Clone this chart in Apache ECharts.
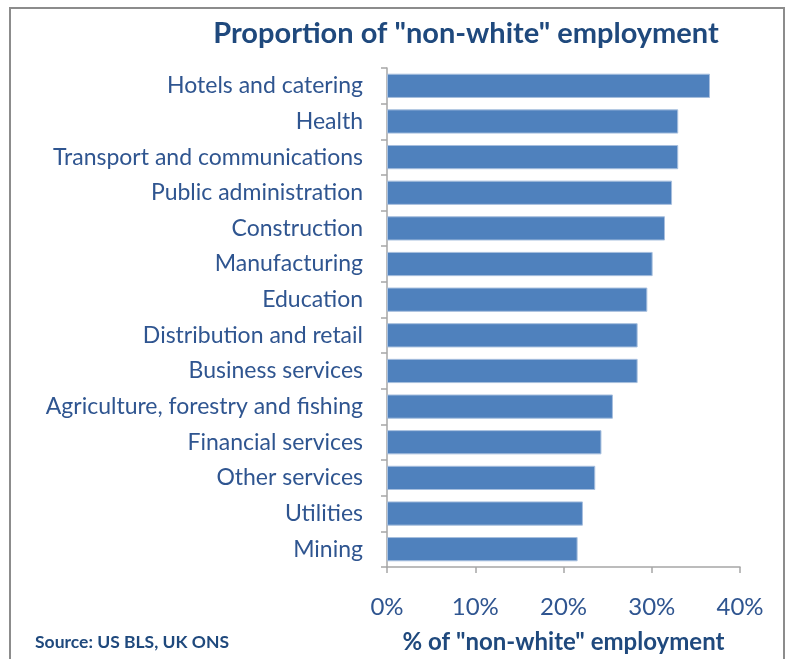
<!DOCTYPE html>
<html>
<head>
<meta charset="utf-8">
<script src="https://cdn.jsdelivr.net/npm/echarts@6/dist/echarts.min.js"></script>
<style>
  html, body { margin: 0; padding: 0; background: #fff; }
  #frame { position: absolute; left: 9px; top: 7px; width: 772px; height: 660px; border: 2px solid #8c8c8c; border-bottom: none; }
  #chart { position: absolute; left: 0; top: 0; width: 787px; height: 659px; }
</style>
</head>
<body>
<div id="frame"></div>
<div id="chart"></div>
<script>
// Sectors, top to bottom
const sectors = [
  'Hotels and catering',
  'Health',
  'Transport and communications',
  'Public administration',
  'Construction',
  'Manufacturing',
  'Education',
  'Distribution and retail',
  'Business services',
  'Agriculture, forestry and fishing',
  'Financial services',
  'Other services',
  'Utilities',
  'Mining'
];
// Share of "non-white" employment, percent
const shares = [36.6, 33.0, 33.0, 32.3, 31.5, 30.1, 29.5, 28.4, 28.4, 25.6, 24.3, 23.6, 22.2, 21.6];
const xTicks = [0, 10, 20, 30, 40];

const FONT = 'Lato';
const chart = echarts.init(document.getElementById('chart'), null, { renderer: 'canvas' });
chart.setOption({
  animation: false,
  textStyle: { fontFamily: FONT },
  title: [
    {
      text: 'Proportion of "non-white" employment',
      left: 461, top: 14, textAlign: 'center',
      textStyle: { fontFamily: FONT, fontSize: 29, fontWeight: 'bold', color: '#1F497D' }
    },
    {
      text: 'Source: US BLS, UK ONS',
      left: 30, top: 628,
      textStyle: { fontFamily: FONT, fontSize: 17.5, fontWeight: 'bold', color: '#1F497D' }
    }
  ],
  grid: { left: 387, right: 47, top: 68, bottom: 92, containLabel: false, outerBoundsMode: 'none' },
  xAxis: {
    type: 'value',
    min: xTicks[0], max: xTicks[xTicks.length - 1], interval: 10,
    name: '% of "non-white" employment',
    nameLocation: 'middle', nameGap: 63,
    nameTextStyle: { fontFamily: FONT, fontSize: 24, fontWeight: 'bold', color: '#1F497D' },
    axisLine: { show: true, lineStyle: { color: '#A6A6A6', width: 1.5 } },
    axisTick: { show: true, length: 6, lineStyle: { color: '#A6A6A6', width: 1.5 } },
    splitLine: { show: false },
    axisLabel: {
      margin: 28, fontFamily: FONT, fontSize: 24, color: '#2F5590',
      formatter: v => v + '%'
    }
  },
  yAxis: {
    type: 'category',
    data: sectors,
    inverse: true,
    axisLine: { show: true, lineStyle: { color: '#A6A6A6', width: 1.5 } },
    axisTick: { show: true, length: 6, lineStyle: { color: '#A6A6A6', width: 1.5 } },
    axisLabel: { margin: 24, fontFamily: FONT, fontSize: 23, color: '#2F5590' }
  },
  series: [{
    type: 'bar',
    data: shares,
    barCategoryGap: '32%',
    itemStyle: { color: '#4F81BD', borderColor: '#A7BFDE', borderWidth: 1 }
  }]
});
</script>
</body>
</html>
